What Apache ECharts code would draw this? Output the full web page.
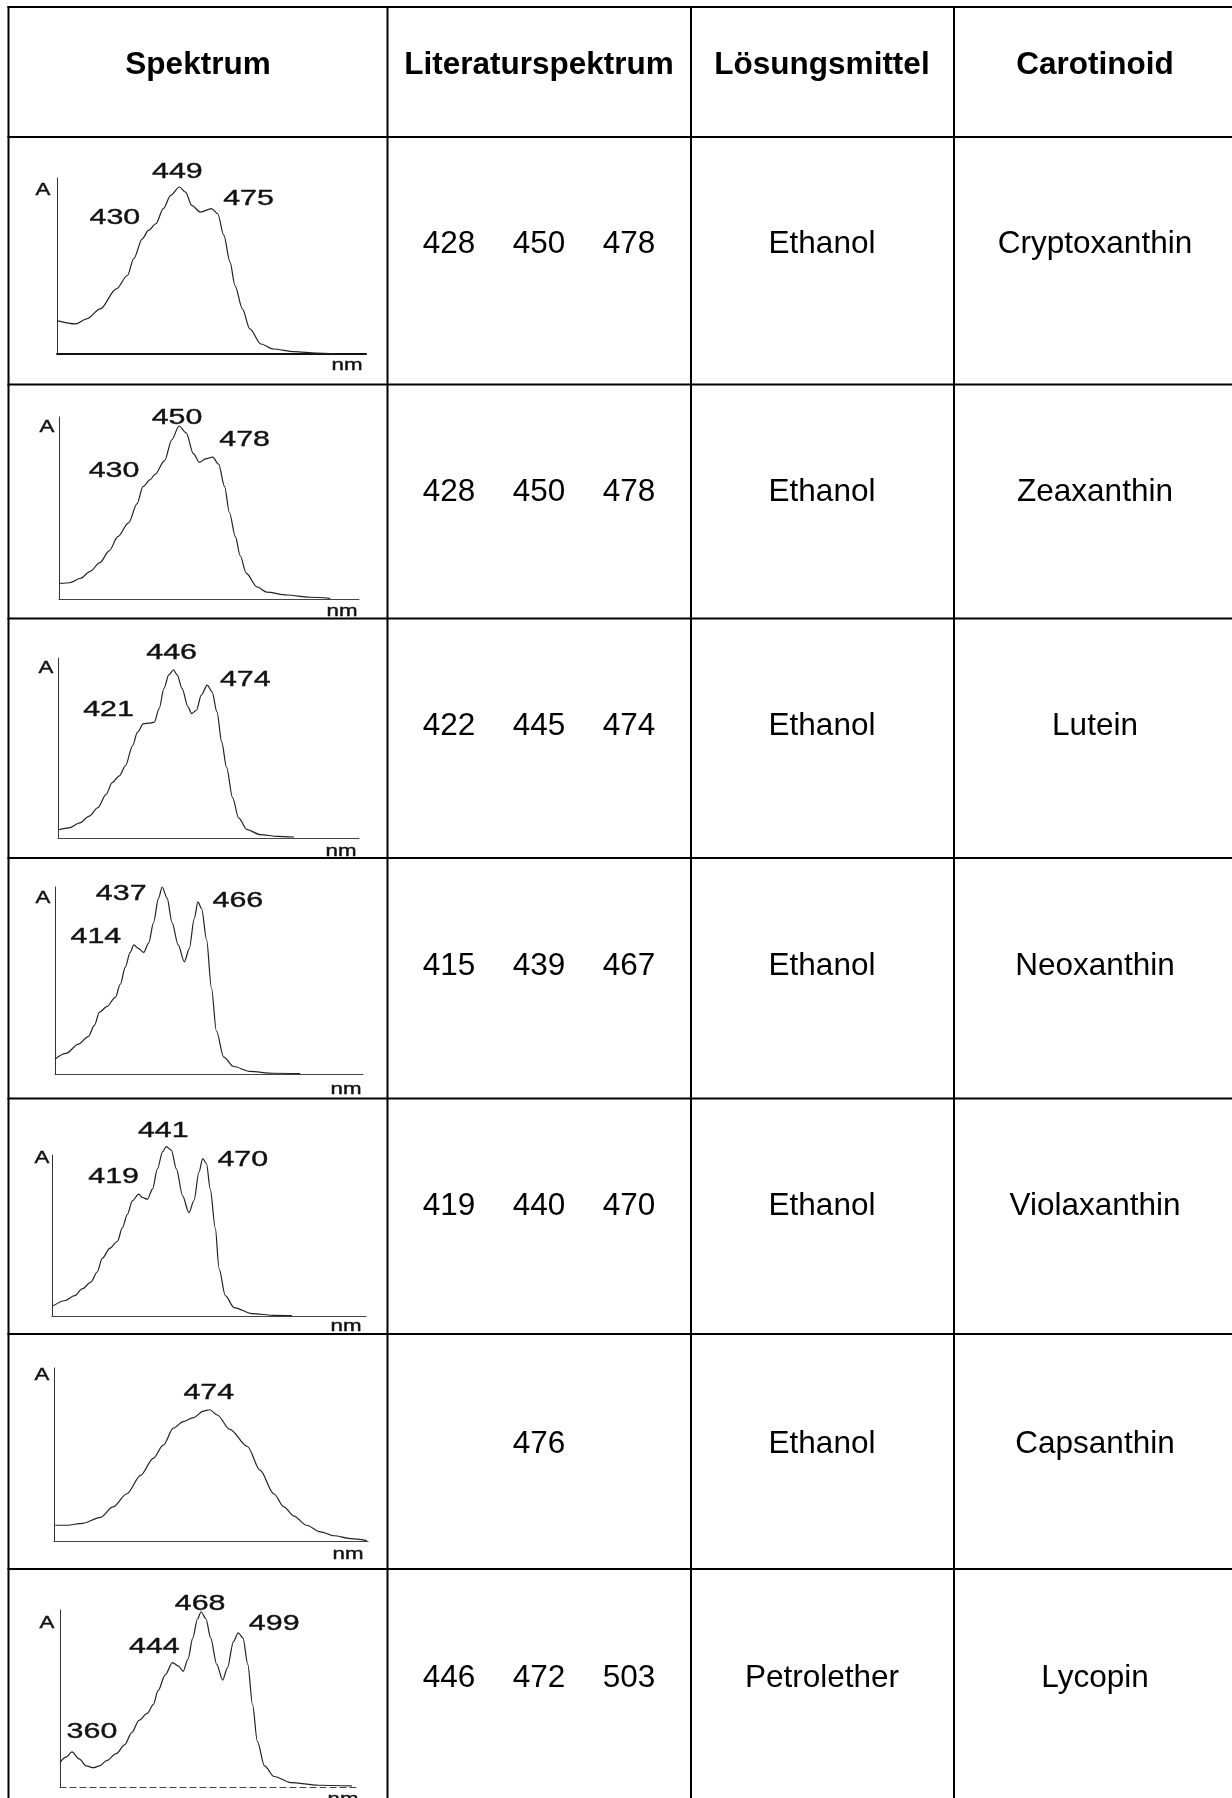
<!DOCTYPE html>
<html>
<head>
<meta charset="utf-8">
<script src="https://cdn.jsdelivr.net/npm/echarts@6/dist/echarts.min.js"></script>
<style>
  html, body { margin: 0; padding: 0; background: #fff; }
  #chart { width: 1232px; height: 1798px; }
</style>
</head>
<body>
<div id="chart"></div>
<script>
// ---- Table content ----
const headers = ['Spektrum', 'Literaturspektrum', 'Lösungsmittel', 'Carotinoid'];
const carotenoids = ['Cryptoxanthin', 'Zeaxanthin', 'Lutein', 'Neoxanthin', 'Violaxanthin', 'Capsanthin', 'Lycopin'];
const solvents = ['Ethanol', 'Ethanol', 'Ethanol', 'Ethanol', 'Ethanol', 'Ethanol', 'Petrolether'];
const literaturePeaks = [
  [428, 450, 478],
  [428, 450, 478],
  [422, 445, 474],
  [415, 439, 467],
  [419, 440, 470],
  [476],
  [446, 472, 503]
];

// ---- Measured absorption spectra: [wavelength nm, relative absorbance] ----
const cryptoxanthinSpectrum = [
  [350,0.20],[365,0.18],[374,0.21],[385,0.27],[398,0.39],[407,0.47],[412,0.57],[419,0.69],
  [424,0.74],[430,0.78],[436,0.87],[442,0.95],[449,1.00],[454,0.97],[459,0.89],[466,0.85],
  [475,0.87],[480,0.84],[485,0.71],[490,0.55],[494,0.41],[500,0.27],[506,0.15],[515,0.06],
  [525,0.03],[542,0.014],[560,0.006],[575,0.002]
];
const zeaxanthinSpectrum = [
  [351,0.09],[359,0.094],[368,0.12],[376,0.16],[384,0.21],[392,0.28],[399,0.36],[408,0.44],
  [415,0.55],[420,0.65],[426,0.69],[430,0.72],[438,0.80],[444,0.92],[450,1.00],[456,0.96],
  [462,0.84],[467,0.79],[472,0.81],[478,0.82],[483,0.78],[488,0.65],[492,0.50],[497,0.36],
  [501,0.25],[506,0.15],[515,0.07],[523,0.04],[540,0.023],[559,0.01],[576,0.004]
];
const luteinSpectrum = [
  [351,0.05],[359,0.06],[368,0.09],[376,0.13],[383,0.18],[390,0.26],[395,0.33],[401,0.37],
  [406,0.43],[412,0.55],[416,0.63],[421,0.68],[426,0.683],[430,0.69],[434,0.77],[438,0.89],
  [442,0.97],[446,1.00],[449,0.97],[453,0.89],[458,0.78],[461,0.74],[465,0.76],[469,0.85],
  [474,0.91],[478,0.87],[482,0.75],[486,0.57],[490,0.42],[495,0.24],[500,0.12],[507,0.05],
  [518,0.02],[532,0.01],[546,0.006]
];
const neoxanthinSpectrum = [
  [350,0.08],[359,0.11],[369,0.16],[377,0.20],[382,0.26],[386,0.33],[392,0.36],[399,0.41],
  [403,0.48],[407,0.57],[411,0.65],[414,0.69],[418,0.67],[422,0.65],[426,0.70],[430,0.81],
  [434,0.94],[437,1.00],[441,0.94],[445,0.81],[450,0.69],[455,0.60],[459,0.67],[463,0.83],
  [466,0.92],[469,0.885],[473,0.72],[477,0.46],[481,0.23],[487,0.09],[495,0.04],[508,0.014],
  [527,0.004],[549,0.002]
];
const violaxanthinSpectrum = [
  [351,0.06],[360,0.09],[368,0.12],[374,0.16],[381,0.20],[386,0.26],[390,0.34],[396,0.40],
  [402,0.44],[406,0.52],[410,0.60],[414,0.68],[419,0.72],[422,0.70],[426,0.69],[430,0.75],
  [434,0.87],[438,0.97],[441,1.00],[445,0.98],[449,0.87],[454,0.71],[459,0.61],[463,0.68],
  [467,0.85],[470,0.93],[473,0.90],[476,0.75],[480,0.52],[483,0.28],[488,0.12],[495,0.05],
  [509,0.014],[527,0.004],[541,0.002]
];
const capsanthinSpectrum = [
  [351,0.12],[360,0.12],[373,0.135],[387,0.18],[397,0.26],[408,0.36],[419,0.50],[429,0.63],
  [437,0.73],[445,0.86],[453,0.91],[461,0.94],[469,0.99],[474,1.00],[480,0.96],[490,0.85],
  [504,0.72],[514,0.54],[525,0.36],[533,0.26],[541,0.19],[551,0.12],[562,0.07],[573,0.04],
  [586,0.018],[599,0.003]
];
const lycopinSpectrum = [
  [350,0.14],[355,0.17],[360,0.20],[366,0.16],[372,0.12],[378,0.11],[383,0.12],[389,0.15],
  [397,0.19],[404,0.24],[410,0.31],[416,0.38],[423,0.42],[428,0.47],[432,0.55],[438,0.64],
  [444,0.71],[449,0.69],[453,0.66],[457,0.73],[461,0.85],[465,0.96],[468,1.00],[472,0.96],
  [476,0.85],[481,0.70],[486,0.61],[490,0.68],[495,0.83],[499,0.88],[503,0.85],[507,0.70],
  [511,0.47],[515,0.26],[521,0.12],[529,0.06],[543,0.025],[566,0.01],[594,0.006]
];

// Peak wavelengths annotated on each measured spectrum
const cryptoxanthinPeaks = [430, 449, 475];
const zeaxanthinPeaks = [430, 450, 478];
const luteinPeaks = [421, 446, 474];
const neoxanthinPeaks = [414, 437, 466];
const violaxanthinPeaks = [419, 441, 470];
const capsanthinPeaks = [474];
const lycopinPeaks = [360, 444, 468, 499];

const spectra = [cryptoxanthinSpectrum, zeaxanthinSpectrum, luteinSpectrum, neoxanthinSpectrum,
                 violaxanthinSpectrum, capsanthinSpectrum, lycopinSpectrum];
const peakSets = [cryptoxanthinPeaks, zeaxanthinPeaks, luteinPeaks, neoxanthinPeaks,
                  violaxanthinPeaks, capsanthinPeaks, lycopinPeaks];

// ---- Layout ----
const FONT = '"Liberation Sans", Arial, Helvetica, sans-serif';
const columnLines = [8.5, 387.5, 691, 954];
const columnCenters = [198, 539, 822, 1095];
const rowLines = [7, 137, 384.5, 618.5, 858, 1098.5, 1334, 1569];
const headerTextY = 65;
const rowTextY = [244, 492, 726, 966, 1206, 1444, 1678];
const literatureSpacing = 90;

// Small spectrum plots: left, top, width, height, upper absorbance limit
const plotBoxes = [
  [57, 178, 309, 176, 1.054],
  [59, 417, 300, 182, 1.052],
  [58, 658, 301, 180, 1.071],
  [55, 887, 308, 187, 1.0],
  [52, 1155, 314, 161, 0.951],
  [54, 1368, 314, 173, 1.318],
  [60, 1610, 299, 177, 1.01]
];
// Peak label offsets from the peak point (px)
const peakLabelOffsets = [
  [[-41, -6], [-2, -15], [37, -10]],
  [[-41, -4], [-2, -8], [32, -17]],
  [[-35, -14], [-2, -17], [38, -5]],
  [[-38, -8], [-41, 7], [40, -1]],
  [[-25, -17], [-3, -16], [40, 1]],
  [[-1, -17]],
  [[20, -20], [-18, -16], [-1, -8], [36, -9]]
];
const axisNameOffsets = [
  [[-14, 12], [-19, 11]],
  [[-12, 10], [-17, 12]],
  [[-12, 10], [-18, 13]],
  [[-12, 11], [-17, 15]],
  [[-10, 3], [-20, 10]],
  [[-12, 7], [-20, 13]],
  [[-13, 13], [-16, 12]]
];

const chart = echarts.init(document.getElementById('chart'), null, { renderer: 'canvas' });

const grids = [], xAxes = [], yAxes = [], series = [];
plotBoxes.forEach(function (b, i) {
  grids.push({ left: b[0], top: b[1], width: b[2], height: b[3], containLabel: false });
  xAxes.push({
    type: 'value', gridIndex: i, min: 350, max: 600,
    axisLine: { show: true, onZero: false, lineStyle: {
      color: i === 0 ? '#111' : '#444', width: i === 0 ? 2 : 1, type: i === 6 ? [6, 4] : 'solid' } },
    axisTick: { show: false }, axisLabel: { show: false }, splitLine: { show: false }
  });
  yAxes.push({
    type: 'value', gridIndex: i, min: 0, max: b[4],
    axisLine: { show: true, onZero: false, lineStyle: { color: '#333', width: 1 } },
    axisTick: { show: false }, axisLabel: { show: false }, splitLine: { show: false }
  });
  series.push({
    type: 'line', xAxisIndex: i, yAxisIndex: i, data: spectra[i],
    showSymbol: false, smooth: 0.3, smoothMonotone: 'x', clip: false,
    lineStyle: { color: '#222', width: 1.2 }, silent: true
  });
});

chart.setOption({
  animation: false,
  backgroundColor: '#ffffff',
  grid: grids, xAxis: xAxes, yAxis: yAxes, series: series
});

const elements = [];
function text(x, y, str, font, opts) {
  const o = opts || {};
  const style = { text: String(str), font: font, fill: o.fill || '#000',
                  textAlign: o.align || 'center', textVerticalAlign: 'middle' };
  if (o.stroke) { style.stroke = o.stroke; style.lineWidth = o.strokeWidth; }
  elements.push({ type: 'text', x: x, y: y, scaleX: o.scaleX || 1, z: 10, style: style });
}

// Table grid
rowLines.forEach(function (y) {
  elements.push({ type: 'line', z: 5, shape: { x1: 7.5, y1: y, x2: 1232, y2: y },
                  style: { stroke: '#000', lineWidth: 2 } });
});
columnLines.forEach(function (x) {
  elements.push({ type: 'line', z: 5, shape: { x1: x, y1: 6, x2: x, y2: 1798 },
                  style: { stroke: '#000', lineWidth: 2 } });
});

// Header row
headers.forEach(function (h, c) {
  text(columnCenters[c], headerTextY, h, 'bold 31.5px ' + FONT);
});

// Body rows
carotenoids.forEach(function (name, r) {
  const y = rowTextY[r];
  const lit = literaturePeaks[r];
  lit.forEach(function (v, k) {
    const x = columnCenters[1] + (k - (lit.length - 1) / 2) * literatureSpacing;
    text(x, y, v, '31.5px ' + FONT);
  });
  text(columnCenters[2], y, solvents[r], '31.5px ' + FONT);
  text(columnCenters[3], y, name, '31.5px ' + FONT);
});

// Spectrum annotations (printed plot lettering is wide, so it is stretched horizontally)
const STRETCH = 1.35;
const annot = { scaleX: STRETCH, fill: '#111', stroke: '#111', strokeWidth: 0.4 };
spectra.forEach(function (data, i) {
  const b = plotBoxes[i];
  peakSets[i].forEach(function (nm, k) {
    const pt = data.find(function (d) { return d[0] === nm; });
    const px = chart.convertToPixel({ gridIndex: i }, pt);
    const off = peakLabelOffsets[i][k];
    text(px[0] + off[0], px[1] + off[1], nm, '22.5px ' + FONT, annot);
  });
  const an = axisNameOffsets[i];
  text(b[0] + an[0][0], b[1] + an[0][1], 'A', '16.5px ' + FONT, annot);
  text(b[0] + b[2] + an[1][0], b[1] + b[3] + an[1][1], 'nm', '16.5px ' + FONT, annot);
});

chart.setOption({ graphic: { elements: elements } });
</script>
</body>
</html>
